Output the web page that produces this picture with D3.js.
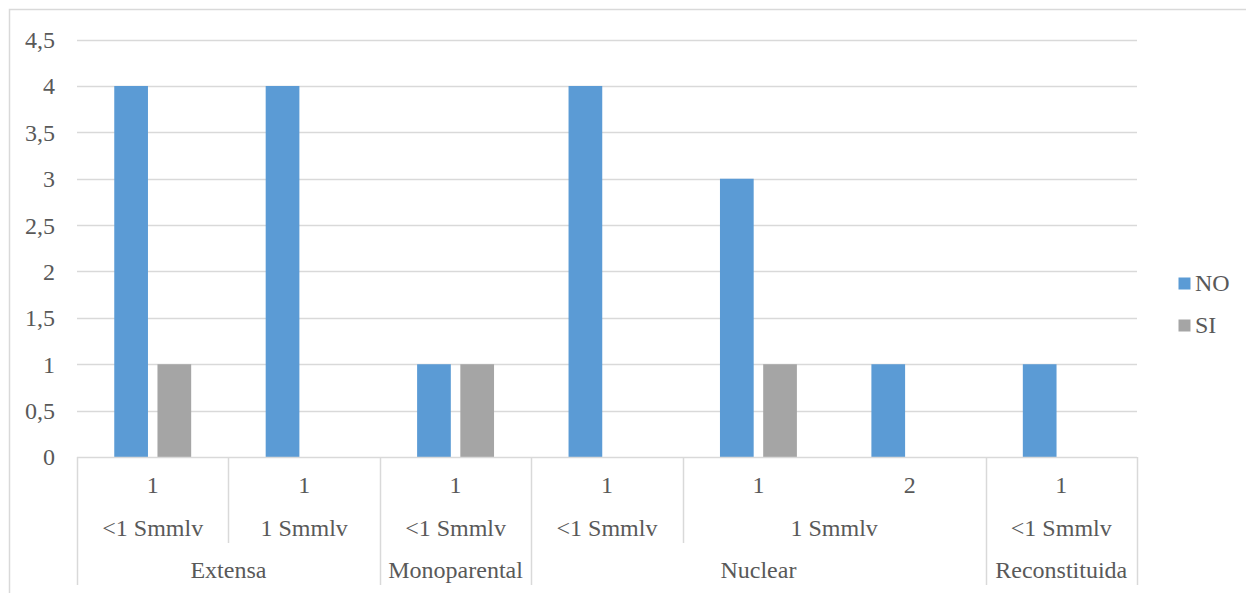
<!DOCTYPE html>
<html><head><meta charset="utf-8">
<script src="https://cdn.jsdelivr.net/npm/d3@7"></script>
<style>html,body{margin:0;padding:0;background:#fff;}svg{display:block;}</style>
</head><body>
<svg id="c" width="1246" height="593"></svg>
<script>
const leafLabels = ["1","1","1","1","1","2","1"];
const incomeLabels = ["<1 Smmlv","1 Smmlv","<1 Smmlv","<1 Smmlv","1 Smmlv","1 Smmlv","<1 Smmlv"];
const familyLabels = ["Extensa","Extensa","Monoparental","Nuclear","Nuclear","Nuclear","Reconstituida"];
const seriesNames = ["NO","SI"];
const valuesNO = [4,4,1,4,3,1,1];
const valuesSI = [1,0,1,0,1,0,0];
const yTicks = [0,0.5,1,1.5,2,2.5,3,3.5,4,4.5];
const colors = {NO:"#5b9bd5", SI:"#a5a5a5"};

const svg = d3.select("#c");
const fontFam = '"Liberation Serif", "Times New Roman", Times, serif';
const fs = "24px";
const textCol = "#595959";
const gridCol = "#d9d9d9";

const L = 77, R = 1137, T = 39.6, B = 457;
const idx = d3.range(leafLabels.length);
const x = d3.scaleBand().domain(idx).range([L, R]).padding(0);
const x1 = d3.scaleBand().domain(seriesNames).range([0, x.bandwidth()]).paddingInner(0.22).paddingOuter(0.862);
const y = d3.scaleLinear().domain([0, 4.5]).range([B, T]);

svg.append("path").attr("d", `M9.5,600 V9.5 H1250`).attr("fill","none").attr("stroke",gridCol).attr("stroke-width",1.5);

svg.append("g").selectAll("line").data(yTicks.filter(d=>d>0)).join("line")
  .attr("x1", L).attr("x2", R).attr("y1", d=>Math.round(y(d))+0.5).attr("y2", d=>Math.round(y(d))+0.5)
  .attr("stroke", gridCol).attr("stroke-width", 1.3);

const yAxis = d3.axisLeft(y).tickValues(yTicks).tickSize(0).tickPadding(0)
  .tickFormat(d => String(d).replace(".", ","));
const ya = svg.append("g").attr("transform", `translate(55,0)`).call(yAxis);
ya.select(".domain").remove();
ya.selectAll("text").style("font-family", fontFam).style("font-size", fs).attr("fill", textCol).attr("dy","0.33em");

const data = idx.map(i => ({i, NO: valuesNO[i], SI: valuesSI[i]}));
const g = svg.append("g");
g.selectAll("g").data(data).join("g")
  .attr("transform", d => `translate(${x(d.i)},0)`)
  .selectAll("rect").data(d => seriesNames.map(s => ({s, v: d[s]})).filter(e => e.v > 0)).join("rect")
  .attr("x", e => x1(e.s)).attr("width", x1.bandwidth())
  .attr("y", e => y(e.v)).attr("height", e => y(0) - y(e.v))
  .attr("fill", e => colors[e.s]);

svg.append("line").attr("x1", L).attr("x2", R).attr("y1", B+0.5).attr("y2", B+0.5).attr("stroke", gridCol).attr("stroke-width", 1.5);

const rowBase = [493, 536, 578];
const rowBottom = [543, 543, 585];
function groups(keysFn) {
  const out = [];
  idx.forEach(i => {
    const k = keysFn(i);
    const last = out[out.length-1];
    if (last && last.key === k) last.end = i; else out.push({key:k, start:i, end:i, label: k.split("|").pop()});
  });
  return out;
}
const levels = [
  idx.map(i => ({key: i+"|"+leafLabels[i], start:i, end:i, label: leafLabels[i]})),
  groups(i => familyLabels[i] + "|" + incomeLabels[i]),
  groups(i => familyLabels[i])
];
const axisG = svg.append("g");
d3.range(leafLabels.length + 1).forEach(b => {
  let bottom;
  if (b === 0 || b === leafLabels.length) bottom = rowBottom[2];
  else {
    const isL2 = levels[2].some(gp => gp.start === b);
    const isL1 = levels[1].some(gp => gp.start === b);
    if (isL2) bottom = rowBottom[2]; else if (isL1) bottom = rowBottom[1]; else bottom = null;
  }
  if (bottom === null) return;
  const xx = Math.round(b < leafLabels.length ? x(b) : R) + 0.5;
  axisG.append("line").attr("x1", xx).attr("x2", xx).attr("y1", B).attr("y2", bottom)
    .attr("stroke", gridCol).attr("stroke-width", 1.5);
});
levels.forEach((lv, li) => {
  axisG.selectAll(null).data(lv).join("text")
    .attr("x", d => (x(d.start) + x(d.end) + x.bandwidth()) / 2)
    .attr("y", rowBase[li])
    .attr("text-anchor", "middle")
    .style("font-family", fontFam).style("font-size", fs).attr("fill", textCol)
    .text(d => d.label);
});

const leg = svg.append("g");
seriesNames.forEach((s, i) => {
  const yy = 277.5 + i * 42;
  leg.append("rect").attr("x", 1178.5).attr("y", yy).attr("width", 12).attr("height", 12).attr("fill", colors[s]);
  leg.append("text").attr("x", 1195).attr("y", yy + 13.5).style("font-family", fontFam).style("font-size", fs).attr("fill", textCol).text(s);
});
</script>
</body></html>
